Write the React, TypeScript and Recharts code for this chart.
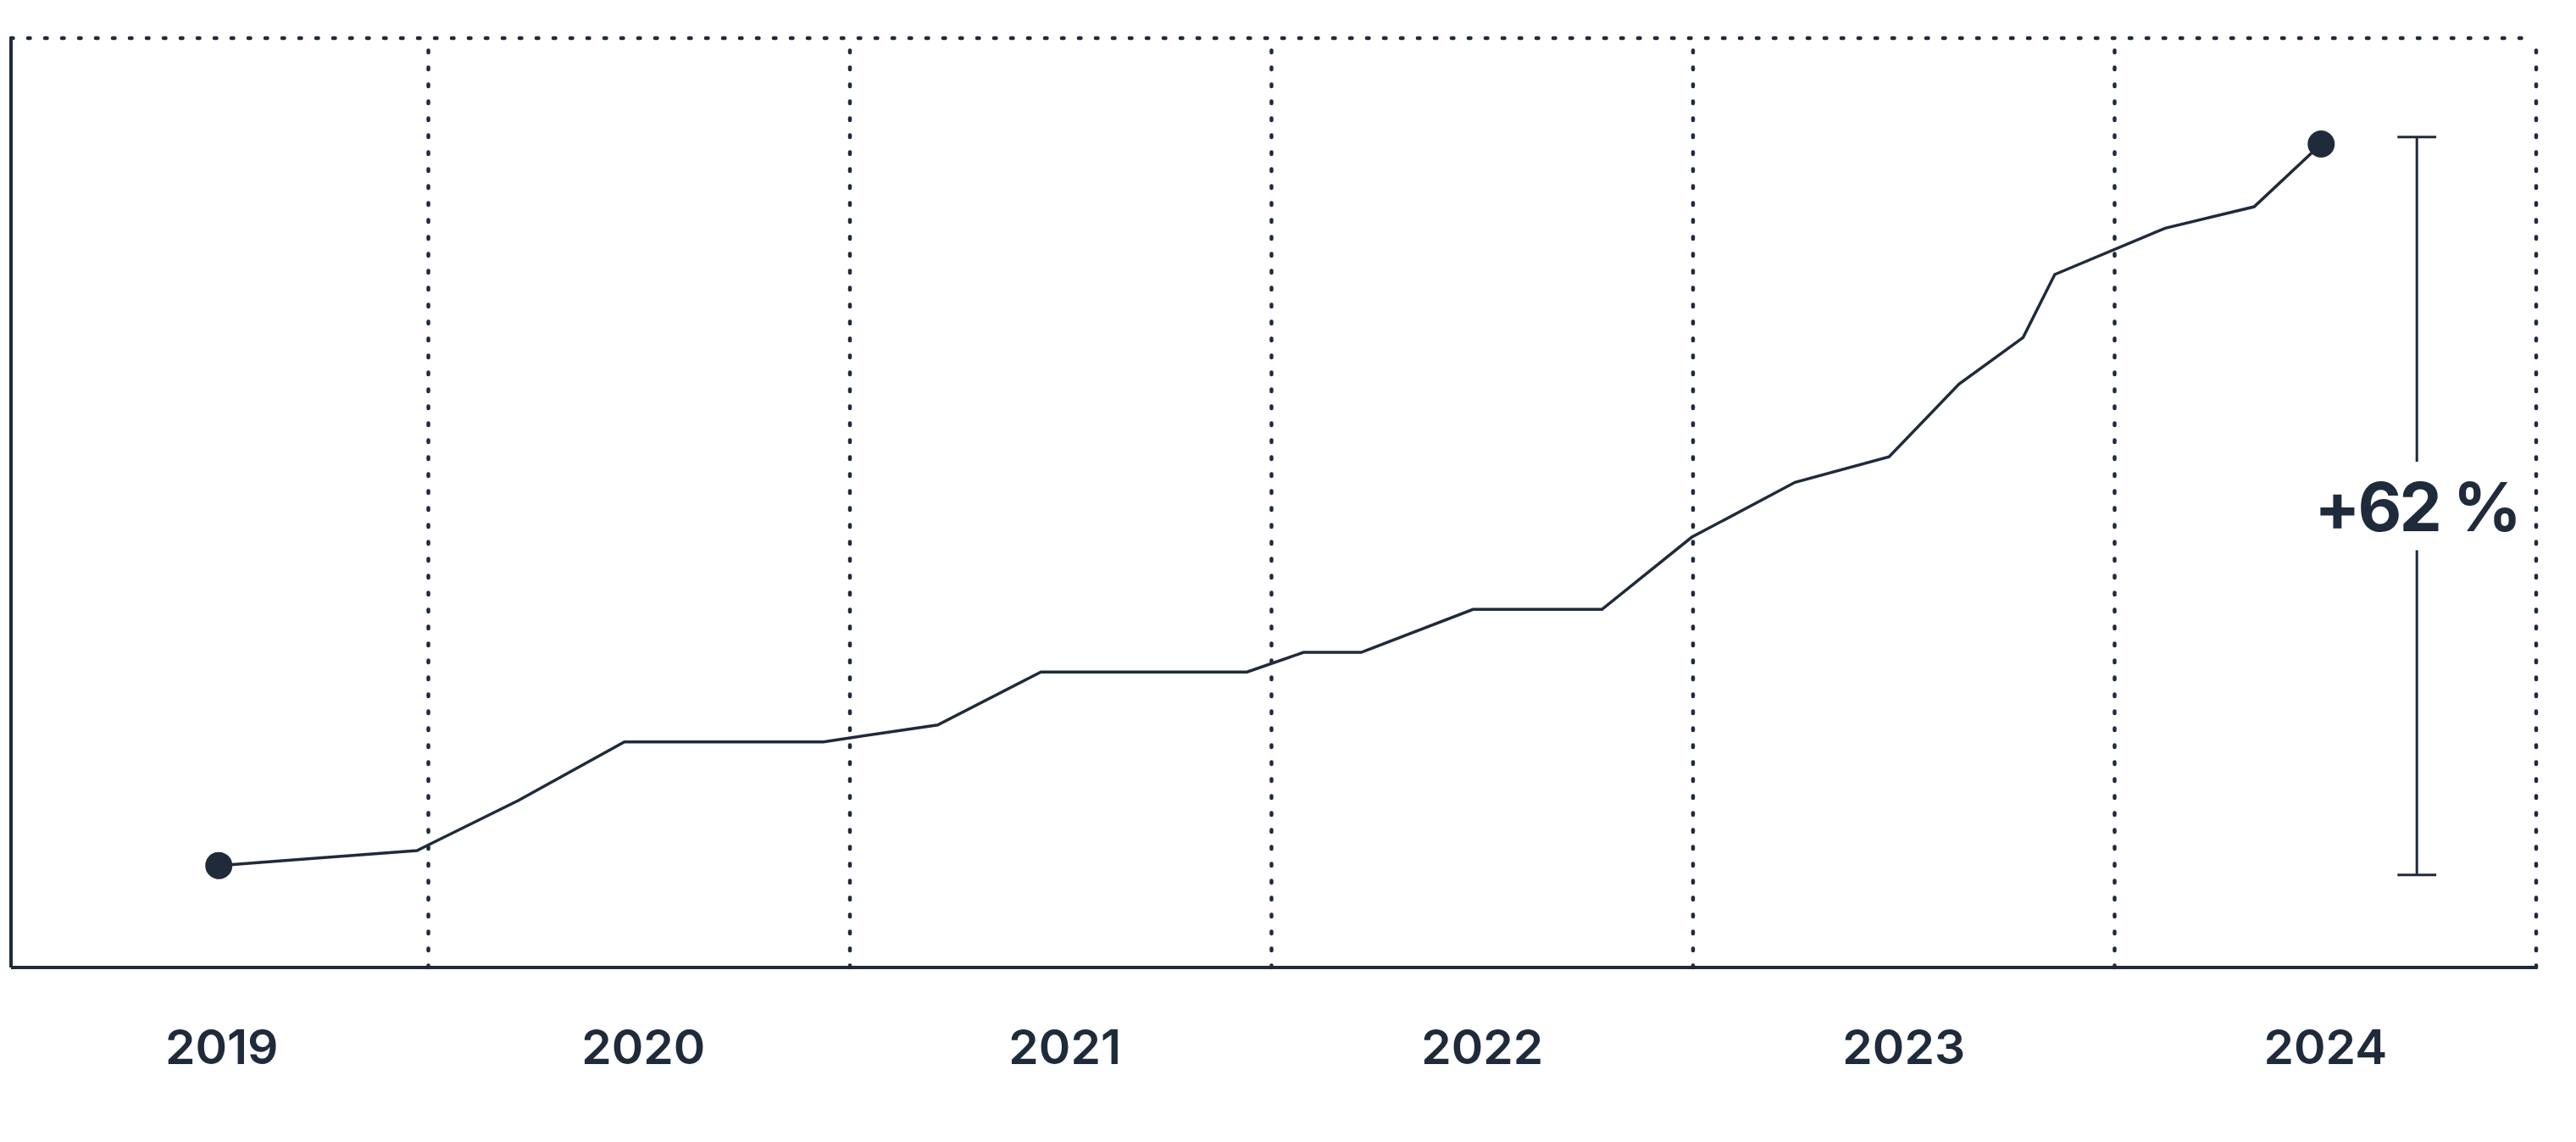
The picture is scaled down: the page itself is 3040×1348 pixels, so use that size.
import React from "react";
import { LineChart, Line, XAxis, YAxis, ReferenceLine, ReferenceDot, Label } from "recharts";

// Decimal-year positions of the series' vertices
const dates = [
  2019.503, 2019.973, 2020.213, 2020.465, 2020.937, 2021.208, 2021.453, 2021.942,
  2022.076, 2022.213, 2022.478, 2022.784, 2022.997, 2023.242, 2023.465, 2023.631,
  2023.783, 2023.858, 2024.12, 2024.331, 2024.49,
];
// Index values (start = 100)
const values = [
  100, 101.29, 105.58, 110.63, 110.63, 112.08, 116.63, 116.63,
  118.32, 118.32, 122.01, 122.01, 128.22, 132.93, 135.12, 141.38,
  145.38, 150.79, 154.77, 156.61, 162.0,
];
const yearTicks = [2019.51, 2020.51, 2021.51, 2022.5, 2023.5, 2024.5];
const yearBoundaries = [2020, 2021, 2022, 2023, 2024, 2025];
const changeLabel = "+62 %";

const X_DOMAIN: [number, number] = [2019.01, 2025];
const Y_DOMAIN: [number, number] = [91.24, 171.1];

// Bracket annotation (data coordinates)
const BRACKET_X = 2024.717;
const BRACKET_HALF = 0.046;
const BRACKET_TOP = 162.6;
const BRACKET_BOTTOM = 99.2;
const GAP_TOP = 134.7;
const GAP_BOTTOM = 127.1;
const LABEL_Y = 130.8;

const INK = "#1f2b3b";
const FONT = "Inter, 'Noto Sans', sans-serif";

const data = dates.map((t, i) => ({ t, v: values[i] }));

const renderDot = (props: any) => {
  const { cx, cy, index } = props;
  if (index === 0 || index === data.length - 1) {
    return <circle key={`d-${index}`} cx={cx} cy={cy} r={16} fill={INK} />;
  }
  return <g key={`d-${index}`} />;
};

const dotted = {
  stroke: INK,
  strokeWidth: 4.5,
  strokeDasharray: "2.5 17.5",
  strokeLinecap: "round" as const,
};

export default function App() {
  return (
    <div style={{ position: "absolute", left: 0, top: 0, width: 3040, height: 1348, background: "#fff" }}>
      <LineChart
        width={3040}
        height={1348}
        data={data}
        margin={{ top: 45, right: 47, bottom: 0, left: 13 }}
      >
        <XAxis
          type="number"
          dataKey="t"
          domain={X_DOMAIN}
          ticks={yearTicks}
          allowDataOverflow
          tickFormatter={(v: number) => String(Math.floor(v))}
          height={206}
          tickLine={false}
          tickSize={0}
          tickMargin={74}
          axisLine={{ stroke: INK, strokeWidth: 4 }}
          tick={{ fill: INK, fontSize: 57, fontWeight: 600, fontFamily: FONT }}
          interval={0}
        />
        <YAxis hide type="number" domain={Y_DOMAIN} allowDataOverflow />
        {/* top dotted border */}
        <ReferenceLine y={Y_DOMAIN[1]} ifOverflow="visible" {...dotted} />
        {yearBoundaries.map((b) => (
          <ReferenceLine key={b} x={b} ifOverflow="visible" {...dotted} />
        ))}
        {/* left solid axis */}
        <ReferenceLine x={X_DOMAIN[0]} ifOverflow="visible" stroke={INK} strokeWidth={4} />
        {/* bracket */}
        <ReferenceLine
          ifOverflow="visible"
          stroke={INK}
          strokeWidth={3}
          segment={[{ x: BRACKET_X, y: BRACKET_TOP }, { x: BRACKET_X, y: GAP_TOP }]}
        />
        <ReferenceLine
          ifOverflow="visible"
          stroke={INK}
          strokeWidth={3}
          segment={[{ x: BRACKET_X, y: GAP_BOTTOM }, { x: BRACKET_X, y: BRACKET_BOTTOM }]}
        />
        <ReferenceLine
          ifOverflow="visible"
          stroke={INK}
          strokeWidth={3}
          segment={[{ x: BRACKET_X - BRACKET_HALF, y: BRACKET_TOP }, { x: BRACKET_X + BRACKET_HALF, y: BRACKET_TOP }]}
        />
        <ReferenceLine
          ifOverflow="visible"
          stroke={INK}
          strokeWidth={3}
          segment={[{ x: BRACKET_X - BRACKET_HALF, y: BRACKET_BOTTOM }, { x: BRACKET_X + BRACKET_HALF, y: BRACKET_BOTTOM }]}
        />
        <Line
          type="linear"
          dataKey="v"
          stroke={INK}
          strokeWidth={3.5}
          dot={renderDot}
          activeDot={false}
          isAnimationActive={false}
        />
        <ReferenceDot x={BRACKET_X} y={LABEL_Y} r={0} fill="none" stroke="none" ifOverflow="visible">
          <Label
            value={changeLabel}
            position="center"
            fill={INK}
            fontSize={80}
            fontWeight={700}
            fontFamily={FONT}
            letterSpacing={-3}
          />
        </ReferenceDot>
      </LineChart>
    </div>
  );
}
